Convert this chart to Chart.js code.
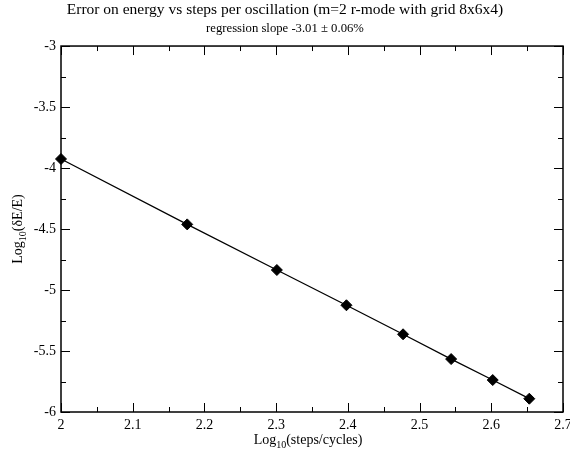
<!DOCTYPE html>
<html>
<head>
<meta charset="utf-8">
<script src="https://cdn.jsdelivr.net/npm/chart.js@4/dist/chart.umd.min.js"></script>
<style>
html,body{margin:0;padding:0;background:#fff;}
#wrap{width:570px;height:455px;position:relative;}
</style>
</head>
<body>
<div id="wrap"><canvas id="c" width="570" height="455"></canvas></div>
<script>
// Data
const logSteps = [2.0, 2.176, 2.301, 2.398, 2.477, 2.544, 2.602, 2.653];
const logError = [-3.926, -4.462, -4.836, -5.125, -5.363, -5.566, -5.738, -5.891];
const xTicks = [2, 2.1, 2.2, 2.3, 2.4, 2.5, 2.6, 2.7];
const yTicks = [-6, -5.5, -5, -4.5, -4, -3.5, -3];
const titleText = 'Error on energy vs steps per oscillation (m=2 r-mode with grid 8x6x4)';
const subtitleText = 'regression slope -3.01 \u00b1 0.06%';

const FONT = '"Liberation Serif", "Times New Roman", serif';

const fmt = v => String(Number(v.toFixed(3)));

const decor = {
  id: 'decor',
  afterDraw(chart) {
    const ctx = chart.ctx;
    const a = chart.chartArea;
    const xs = chart.scales.x, ys = chart.scales.y;
    ctx.save();
    ctx.strokeStyle = '#000';
    ctx.lineWidth = 1.5;
    // frame
    ctx.strokeRect(a.left, a.top, a.right - a.left, a.bottom - a.top);
    ctx.lineWidth = 1;
    // x ticks (inward, bottom and top)
    for (let i = 0; i <= 14; i++) {
      const v = xs.min + i * 0.05;
      const px = Math.round(xs.getPixelForValue(v)) + 0.5;
      const len = (i % 2 === 0) ? 9 : 5;
      ctx.beginPath();
      ctx.moveTo(px, a.bottom); ctx.lineTo(px, a.bottom - len);
      ctx.moveTo(px, a.top); ctx.lineTo(px, a.top + len);
      ctx.stroke();
    }
    // y ticks (inward, left and right)
    for (let i = 0; i <= 12; i++) {
      const v = ys.min + i * 0.25;
      const py = Math.round(ys.getPixelForValue(v)) + 0.5;
      const len = (i % 2 === 0) ? 9 : 5;
      ctx.beginPath();
      ctx.moveTo(a.left, py); ctx.lineTo(a.left + len, py);
      ctx.moveTo(a.right, py); ctx.lineTo(a.right - len, py);
      ctx.stroke();
    }
    // axis titles with subscripts
    function drawSub(parts, cx, cy, rotate) {
      ctx.save();
      ctx.translate(cx, cy);
      if (rotate) ctx.rotate(-Math.PI / 2);
      ctx.fillStyle = '#000';
      ctx.textBaseline = 'alphabetic';
      ctx.textAlign = 'left';
      let total = 0;
      parts.forEach(p => { ctx.font = (p.sub ? 10 : 14) + 'px ' + FONT; total += ctx.measureText(p.t).width; });
      let x = -total / 2;
      parts.forEach(p => {
        ctx.font = (p.sub ? 10 : 14) + 'px ' + FONT;
        ctx.fillText(p.t, x, p.sub ? 9 : 5);
        x += ctx.measureText(p.t).width;
      });
      ctx.restore();
    }
    drawSub([{t:'Log'},{t:'10',sub:true},{t:'(steps/cycles)'}], 308, 439, false);
    drawSub([{t:'Log'},{t:'10',sub:true},{t:'(\u03b4E/E)'}], 17, 229, true);
    ctx.restore();
  }
};

new Chart(document.getElementById('c'), {
  type: 'scatter',
  data: {
    datasets: [{
      data: logSteps.map((x, i) => ({x: x, y: logError[i]})),
      showLine: true,
      borderColor: '#000',
      borderWidth: 1.3,
      backgroundColor: '#000',
      pointStyle: 'rectRot',
      pointRadius: 5.5,
      pointHoverRadius: 5.5,
      pointBorderWidth: 1,
      pointBorderColor: '#000',
      pointBackgroundColor: '#000',
      clip: false
    }]
  },
  plugins: [decor],
  options: {
    responsive: false,
    animation: false,
    devicePixelRatio: 1,
    layout: { padding: { left: 0, right: 0, top: 0, bottom: 0 } },
    plugins: {
      legend: { display: false },
      tooltip: { enabled: false },
      title: {
        display: true, text: titleText, color: '#000',
        font: { family: FONT, size: 15.5, weight: 'normal', lineHeight: 1.2 },
        padding: { top: 1, bottom: 0 }
      },
      subtitle: {
        display: true, text: subtitleText, color: '#000',
        font: { family: FONT, size: 12.7, weight: 'normal', lineHeight: 1.2 },
        padding: { top: 1, bottom: 10.2 }
      }
    },
    scales: {
      x: {
        type: 'linear', min: 2, max: 2.7,
        grid: { display: false, drawTicks: false },
        border: { display: false },
        afterBuildTicks: s => { s.ticks = xTicks.map(v => ({value: v})); },
        ticks: { color: '#000', padding: 5, maxRotation: 0, autoSkip: false,
                 font: { family: FONT, size: 14 }, callback: v => fmt(v) },
        afterFit: s => { s.height = 43; s.paddingLeft = 0; s.paddingRight = 7; }
      },
      y: {
        type: 'linear', min: -6, max: -3,
        grid: { display: false, drawTicks: false },
        border: { display: false },
        afterBuildTicks: s => { s.ticks = yTicks.map(v => ({value: v})); },
        ticks: { color: '#000', padding: 5, autoSkip: false,
                 font: { family: FONT, size: 14 }, callback: v => fmt(v) },
        afterFit: s => { s.width = 61; s.paddingTop = 0; s.paddingBottom = 0; }
      }
    }
  }
});
</script>
</body>
</html>
